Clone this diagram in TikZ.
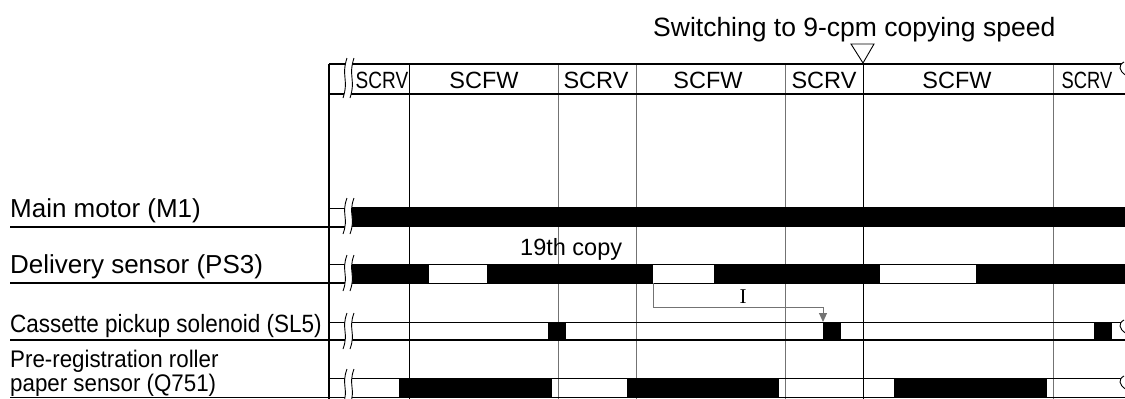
\documentclass[tikz,border=0pt]{standalone}
\usepackage{graphicx}
\usepackage{fontspec}
\setmainfont{Liberation Sans}
\newfontfamily\serifI{Liberation Serif}
\usetikzlibrary{arrows.meta}
\definecolor{gridgray}{gray}{0.45}
\newcommand\brkmark[3]{%
  \pgfmathsetmacro\brkA{#2+0.45*(#3-#2)}%
  \pgfmathsetmacro\brkB{#3-0.45*(#3-#2)}%
  \fill[white] ({#1+2},#2) .. controls ({#1-4},\brkA) and ({#1+4},\brkB) .. ({#1-2},#3)
     -- ({#1+5},#3) .. controls ({#1+11},\brkB) and ({#1+3},\brkA) .. ({#1+9},#2) -- cycle;
  \draw[brk] ({#1+2},#2) .. controls ({#1-4},\brkA) and ({#1+4},\brkB) .. ({#1-2},#3);
  \draw[brk] ({#1+9},#2) .. controls ({#1+3},\brkA) and ({#1+11},\brkB) .. ({#1+5},#3);
}
\newcommand\brkend[1]{%
  \fill[white] (1125.5,#1) -- (1124,#1) .. controls (1118,{#1+3}) and (1119,{#1+9}) .. (1125.5,{#1+13}) -- cycle;
  \draw[brk] (1124,#1) .. controls (1118,{#1+3}) and (1119,{#1+9}) .. (1125.5,{#1+13});
}
\begin{document}
\begin{tikzpicture}[x=1pt,y=-1pt,
  brk/.style={line width=0.9pt},
  gridline/.style={gridgray,line width=1pt},
  gridblack/.style={black,line width=1pt},
  frame/.style={line width=1.6pt},
  sig/.style={draw,line width=0.9pt},
  on/.style={fill=black},
  lbl/.style={anchor=base west,inner sep=0pt,font=\fontsize{26}{30}\selectfont},
  slbl/.style={anchor=base west,inner sep=0pt,font=\fontsize{24}{28}\selectfont},
  hdr/.style={anchor=base,inner sep=0pt,font=\fontsize{23.5}{28}\selectfont},
  conn/.style={gridgray,line width=1pt}]
\useasboundingbox (0,0) rectangle (1125,399);
\clip (0,0) rectangle (1125,399);
% grid
\foreach \gx in {558,636,785,1053} \draw[gridline] (\gx,64) -- (\gx,399);
\foreach \gx in {409,863} \draw[gridblack] (\gx,64) -- (\gx,399);
% header frame
\draw[frame] (329,64) -- (1125,64);
\draw[frame] (329,94) -- (1125,94);
\draw[frame] (329,64) -- (329,399);
% triangle marker
\draw[line width=0.9pt] (851,44) -- (874,44) -- (863,63) -- cycle;
% main motor
\fill[on] (349,207) rectangle (1125,227);
\draw[line width=1pt] (329,208) -- (350,208);
\draw[frame] (10,227) -- (350,227);
% delivery sensor
\draw[sig] (349,264) rectangle (1130,283);
\foreach \a/\b in {349/429,487/653,714/880,976/1130} \fill[on] (\a,264) rectangle (\b,283);
\draw[line width=1pt] (329,264) -- (350,264);
\draw[frame] (10,283) -- (350,283);
% cassette pickup solenoid
\draw[line width=1pt] (329,322) -- (1125,322);
\draw[line width=2pt] (10,340) -- (1125,340);
\foreach \a/\b in {548/566,823/841,1094/1112} \fill[on] (\a,322) rectangle (\b,340);
% pre-registration
\draw[sig] (349,378) rectangle (1130,397);
\foreach \a/\b in {399/552,627/779,894/1047} \fill[on] (\a,378) rectangle (\b,397);
\draw[line width=1pt] (329,378) -- (350,378);
\draw[frame] (10,397.5) -- (350,397.5);
% arrow I
\coordinate (i1) at (653,283);
\coordinate (i3) at (823,307);
\coordinate (i2) at (823,322);
\draw[conn,-{Triangle[width=8pt,length=9pt]}] (i1) |- (i3) -- (i2);
\node[anchor=base,inner sep=0pt,font=\serifI\fontsize{21}{24}\selectfont] (ilbl) at (743,303) {I};
% break marks
\brkmark{345}{58}{98}
\brkmark{345}{198}{234}
\brkmark{345}{255}{291}
\brkmark{345}{313}{349}
\brkmark{345}{369}{405}
\brkend{62}
\brkend{320}
\brkend{376}
% header labels
\node[hdr] (h1) at (382,88) {\scalebox{0.81}[1]{SCRV}};
\node[hdr] (h2) at (484,88) {SCFW};
\node[hdr] (h3) at (596,88) {SCRV};
\node[hdr] (h4) at (708,88) {SCFW};
\node[hdr] (h5) at (824,88) {SCRV};
\node[hdr] (h6) at (957,88) {SCFW};
\node[hdr] (h7) at (1087,88) {\scalebox{0.78}[1]{SCRV}};
% title
\node[anchor=base west,inner sep=0pt,font=\fontsize{26.5}{30}\selectfont] (title) at (653,36) {Switching to 9-cpm copying speed};
\node[anchor=base west,inner sep=0pt,font=\fontsize{23.5}{28}\selectfont] (copy19) at (520,255) {19th copy};
% row labels
\node[lbl] (m1) at (10,217) {Main motor (M1)};
\node[lbl] (ps3) at (10,273) {Delivery sensor (PS3)};
\node[slbl,font=\fontsize{25}{28}\selectfont] (sl5) at (10,332) {\scalebox{0.9}[1]{Cassette pickup solenoid (SL5)}};
\node[slbl] (q1) at (10,367) {\scalebox{0.93}[1]{Pre-registration roller}};
\node[slbl] (q2) at (10,391) {\scalebox{0.93}[1]{paper sensor (Q751)}};
\end{tikzpicture}
\end{document}
